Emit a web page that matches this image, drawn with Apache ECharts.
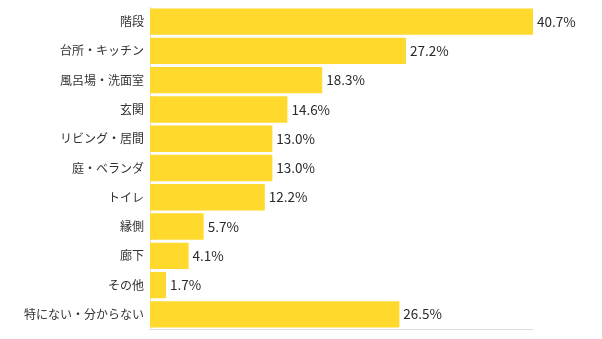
<!DOCTYPE html>
<html>
<head>
<meta charset="utf-8">
<script src="https://cdn.jsdelivr.net/npm/echarts@6/dist/echarts.min.js"></script>
<style>
html,body{margin:0;padding:0;background:#fff;}
#chart{width:602px;height:339px;}
</style>
</head>
<body>
<div id="chart"></div>
<script>
// Places in the home, top to bottom
const categories = ['階段', '台所・キッチン', '風呂場・洗面室', '玄関', 'リビング・居間', '庭・ベランダ', 'トイレ', '縁側', '廊下', 'その他', '特にない・分からない'];
// Share of respondents (%)
const values = [40.7, 27.2, 18.3, 14.6, 13.0, 13.0, 12.2, 5.7, 4.1, 1.7, 26.5];

const chart = echarts.init(document.getElementById('chart'));
chart.setOption({
  animation: false,
  grid: { left: 150, right: 69, top: 7, bottom: 10, containLabel: false },
  xAxis: {
    type: 'value',
    min: 0,
    max: 40.7,
    axisLine: { show: true, lineStyle: { color: '#dddddd', width: 1 } },
    axisTick: { show: false },
    axisLabel: { show: false },
    splitLine: { show: false }
  },
  yAxis: {
    type: 'category',
    inverse: true,
    data: categories,
    axisLine: { show: true, lineStyle: { color: '#dddddd', width: 1 } },
    axisTick: { show: false },
    axisLabel: {
      margin: 6,
      fontSize: 12,
      color: '#333333',
      fontFamily: '"Noto Sans CJK JP", sans-serif'
    }
  },
  series: [{
    type: 'bar',
    data: values,
    barCategoryGap: '10%',
    itemStyle: { color: '#FFD92B' },
    label: {
      show: true,
      position: 'right',
      distance: 4,
      fontSize: 13.5,
      color: '#2a2a2a',
      fontFamily: '"Noto Sans CJK JP", sans-serif',
      formatter: p => p.value.toFixed(1) + '%'
    }
  }]
});
</script>
</body>
</html>
